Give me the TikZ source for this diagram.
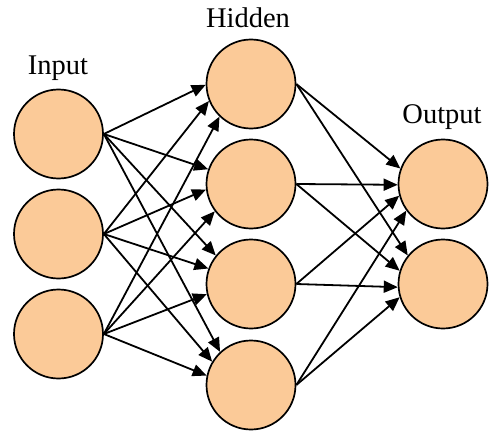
\documentclass[tikz,border=0pt]{standalone}
\usepackage{fontspec}
\setmainfont{Liberation Serif}
\usetikzlibrary{arrows.meta}
\definecolor{neuron}{RGB}{251,202,152}
\tikzset{
  neuronnode/.style={circle, draw=black, line width=1.7pt, fill=neuron, minimum size=89pt, inner sep=0pt},
  link/.style={line width=1.8pt, -{Triangle[length=14pt,width=12pt]}},
  layerlabel/.style={anchor=base, font=\fontsize{28.5}{30}\selectfont, inner sep=0pt}
}
\begin{document}
\begin{tikzpicture}[x=1pt,y=-1pt]
\useasboundingbox (0,0) rectangle (500,441);
\node[neuronnode] (i1) at (58.5,134) {};
\node[neuronnode] (i2) at (58.5,234) {};
\node[neuronnode] (i3) at (58.5,334) {};
\node[neuronnode] (h1) at (251,84) {};
\node[neuronnode] (h2) at (251,184) {};
\node[neuronnode] (h3) at (251,284) {};
\node[neuronnode] (h4) at (251,385) {};
\node[neuronnode] (o1) at (443,184) {};
\node[neuronnode] (o2) at (443,284) {};
\node[layerlabel] (lin) at (58,75) {Input};
\node[layerlabel] (lhid) at (248,28) {Hidden};
\node[layerlabel] (lout) at (442,123) {Output};
% input -> hidden
\draw[link] (i1.east) -- (h1.181);
\draw[link] (i1.east) -- (h2.161);
\draw[link] (i1.east) -- (h3.141);
\draw[link] (i1.east) -- (h4.133);
\draw[link] (i2.east) -- (h1.202);
\draw[link] (i2.east) -- (h2.187);
\draw[link] (i2.east) -- (h3.160);
\draw[link] (i2.east) -- (h4.149);
\draw[link] (i3.east) -- (h1.226);
\draw[link] (i3.east) -- (h2.217);
\draw[link] (i3.east) -- (h3.193);
\draw[link] (i3.east) -- (h4.168);
% hidden -> output
\draw[link] (h1.east) -- (o1.160);
\draw[link] (h1.east) -- (o2.141);
\draw[link] (h2.east) -- (o1.181);
\draw[link] (h2.east) -- (o2.163);
\draw[link] (h3.east) -- (o1.195);
\draw[link] (h3.east) -- (o2.184);
\draw[link] (h4.east) -- (o1.216);
\draw[link] (h4.east) -- (o2.197);
\end{tikzpicture}
\end{document}
